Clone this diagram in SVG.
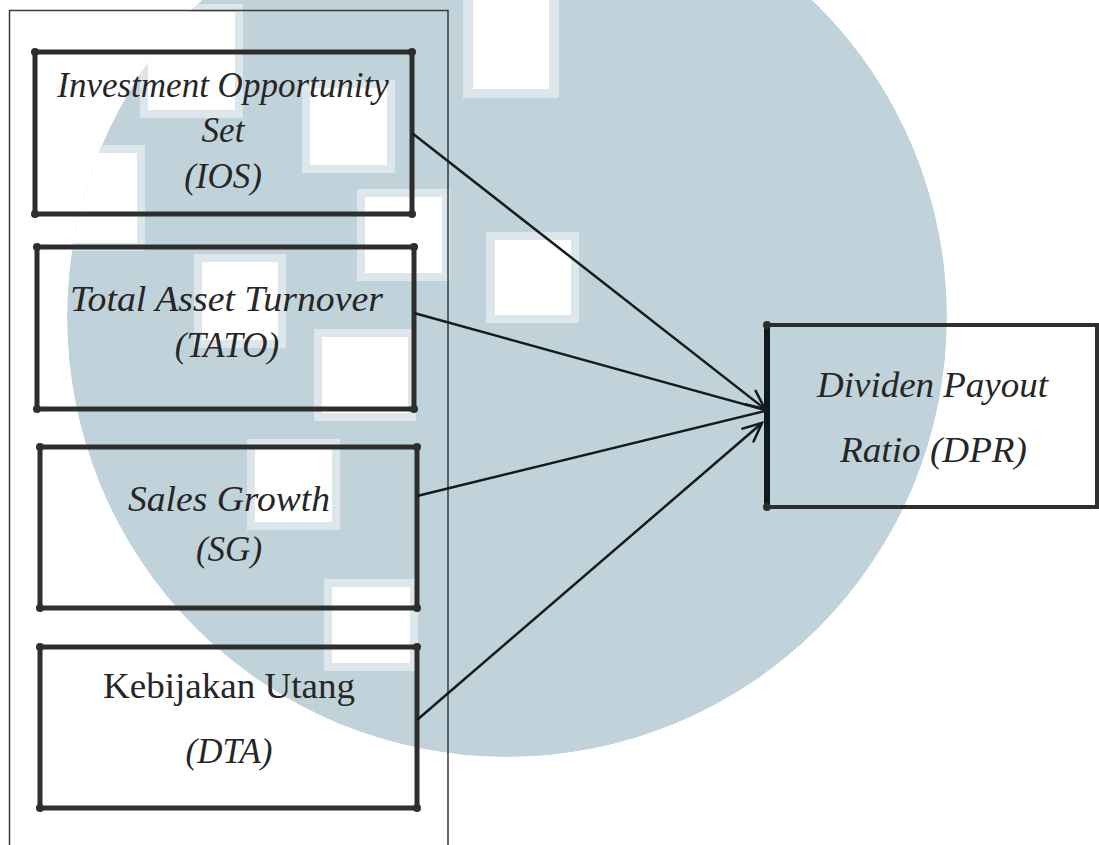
<svg xmlns="http://www.w3.org/2000/svg" width="1099" height="845" viewBox="0 0 1099 845">
<style>
.frame{fill:none;stroke:#3a3a3a;stroke-width:1.5}
.box{fill:none;stroke:#2e2e2e;stroke-width:5}
.dot{fill:#2e2e2e}
.t{font-family:"Liberation Serif","Times New Roman",serif;font-size:35px;fill:#262626;text-anchor:middle}
.i{font-style:italic}
.conn{stroke:#151a1c;stroke-width:2.5;fill:none}
.wm{fill:#c1d3da}
.halo{fill:#dde7eb}
.hole{fill:#ffffff}
</style>
<defs>
<clipPath id="wmclip"><circle cx="507" cy="317" r="440"/></clipPath>
<marker id="arr" markerUnits="userSpaceOnUse" viewBox="-24 -12 28 24" markerWidth="28" markerHeight="24" refX="0" refY="0" orient="auto" overflow="visible">
<path d="M-18.5,-8.5 L0,0 L-18.5,8.5" fill="none" stroke="#151a1c" stroke-width="2.5" stroke-linecap="round"/>
</marker>
</defs>
<rect width="1099" height="845" fill="#ffffff"/>
<g id="watermark" clip-path="url(#wmclip)">
<circle class="wm" cx="507" cy="317" r="440"/>
<rect class="halo" x="463" y="-10" width="96" height="108"/>
<rect class="hole" x="473" y="-10" width="76" height="99"/>
<rect class="halo" x="140" y="4" width="103" height="114"/>
<rect class="hole" x="148" y="12" width="87" height="98"/>
<rect class="halo" x="302" y="80" width="93" height="93"/>
<rect class="hole" x="310" y="88" width="77" height="77"/>
<rect class="halo" x="40" y="145" width="105" height="106"/>
<rect class="hole" x="40" y="153" width="97" height="90"/>
<rect class="halo" x="357" y="189" width="93" height="92"/>
<rect class="hole" x="365" y="197" width="77" height="76"/>
<rect class="halo" x="486" y="232" width="93" height="91"/>
<rect class="hole" x="495" y="240" width="76" height="75"/>
<rect class="halo" x="194" y="254" width="92" height="94"/>
<rect class="hole" x="202" y="262" width="76" height="78"/>
<rect class="halo" x="314" y="329" width="102" height="92"/>
<rect class="hole" x="322" y="337" width="86" height="76"/>
<rect class="halo" x="247" y="439" width="93" height="91"/>
<rect class="hole" x="255" y="447" width="77" height="75"/>
<rect class="halo" x="324" y="579" width="94" height="92"/>
<rect class="hole" x="332" y="587" width="78" height="76"/>
</g>
<g id="frame">
<path class="frame" d="M9.5,845 V10.5 H448 V845"/>
</g>
<g id="node-ios">
<rect class="box" x="35" y="52" width="377" height="162"/>
<circle class="dot" cx="35" cy="52" r="4"/><circle class="dot" cx="412" cy="52" r="4"/><circle class="dot" cx="35" cy="214" r="4"/><circle class="dot" cx="412" cy="214" r="4"/>
<text class="t i" x="223" y="97">Investment Opportunity</text>
<text class="t i" x="223" y="142">Set</text>
<text class="t i" x="223" y="188">(IOS)</text>
</g>
<g id="node-tato">
<rect class="box" x="37" y="247" width="377" height="162"/>
<circle class="dot" cx="37" cy="247" r="4"/><circle class="dot" cx="414" cy="247" r="4"/><circle class="dot" cx="37" cy="409" r="4"/><circle class="dot" cx="414" cy="409" r="4"/>
<text class="t i" x="226.5" y="311" textLength="313" lengthAdjust="spacingAndGlyphs">Total Asset Turnover</text>
<text class="t i" x="227" y="357">(TATO)</text>
</g>
<g id="node-sg">
<rect class="box" x="40" y="447" width="377" height="161"/>
<circle class="dot" cx="40" cy="447" r="4"/><circle class="dot" cx="417" cy="447" r="4"/><circle class="dot" cx="40" cy="608" r="4"/><circle class="dot" cx="417" cy="608" r="4"/>
<text class="t i" x="229" y="511" textLength="202" lengthAdjust="spacingAndGlyphs">Sales Growth</text>
<text class="t i" x="229" y="561">(SG)</text>
</g>
<g id="node-dta">
<rect class="box" x="40" y="647" width="377" height="161"/>
<circle class="dot" cx="40" cy="647" r="4"/><circle class="dot" cx="417" cy="647" r="4"/><circle class="dot" cx="40" cy="808" r="4"/><circle class="dot" cx="417" cy="808" r="4"/>
<text class="t" x="229" y="698" textLength="252" lengthAdjust="spacingAndGlyphs">Kebijakan Utang</text>
<text class="t i" x="229" y="763">(DTA)</text>
</g>
<g id="node-dpr">
<rect class="box" x="767" y="325" width="330" height="182" style="stroke-width:4"/>
<line x1="767" y1="323" x2="767" y2="509" stroke="#101a1e" stroke-width="6"/>
<circle class="dot" cx="767" cy="325" r="4"/><circle class="dot" cx="767" cy="507" r="4"/>
<text class="t i" x="932.5" y="397" textLength="231" lengthAdjust="spacingAndGlyphs">Dividen Payout</text>
<text class="t i" x="933.5" y="462" textLength="187" lengthAdjust="spacingAndGlyphs">Ratio (DPR)</text>
</g>
<g id="connectors">
<line class="conn" x1="412" y1="133" x2="765" y2="409" marker-end="url(#arr)"/>
<line class="conn" x1="414" y1="313" x2="765" y2="410"/>
<line class="conn" x1="417" y1="496" x2="765" y2="411"/>
<line class="conn" x1="417" y1="720" x2="762" y2="423" marker-end="url(#arr)"/>
</g>
</svg>
